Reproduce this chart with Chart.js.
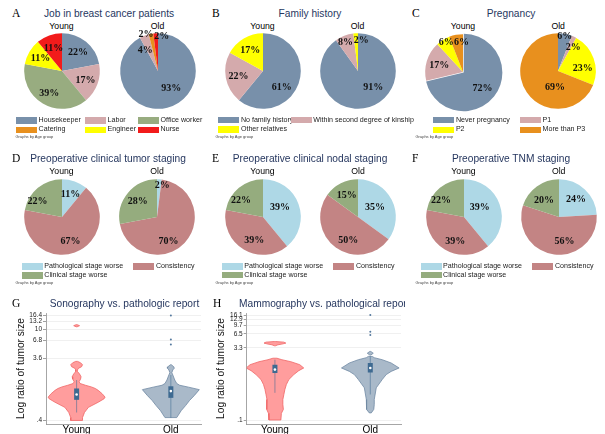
<!DOCTYPE html>
<html><head><meta charset="utf-8">
<script src="https://cdn.jsdelivr.net/npm/chart.js@4.4.1/dist/chart.umd.min.js"></script>
<style>
html,body{margin:0;padding:0;background:#fff;}
body{width:605px;height:434px;position:relative;overflow:hidden;font-family:"Liberation Sans",Arial,sans-serif;}
.abs{position:absolute;white-space:nowrap;line-height:1;}
.letter{font-family:"Liberation Serif","Times New Roman",serif;font-size:11.5px;color:#000;}
.title{font-size:10.2px;color:#26375f;}
.grp{font-size:8.7px;color:#000;}
.leg{font-size:7.1px;color:#222;}
.note{font-size:4px;color:#444;}
canvas{position:absolute;}
</style></head><body>
<script>
// ---------------- DATA ----------------
const ageGroups = ['Young', 'Old'];

const jobCategories = ['Housekeeper', 'Labor', 'Office worker', 'Catering', 'Engineer', 'Nurse'];
const jobYoung = [22, 17, 39, 0, 11, 11];
const jobOld = [93, 4, 0, 2, 0, 2];

const familyCategories = ['No family history', 'Within second degree of kinship', 'Other relatives'];
const familyYoung = [61, 22, 17];
const familyOld = [91, 8, 2];

const pregnancyCategories = ['Never pregnancy', 'P1', 'P2', 'More than P3'];
const pregnancyYoung = [72, 17, 6, 6];
const pregnancyOld = [6, 2, 23, 69];

const stagingCategories = ['Pathological stage worse', 'Consistency', 'Clinical stage worse'];
const tumorYoung = [11, 67, 22];
const tumorOld = [2, 70, 28];
const nodalYoung = [39, 39, 22];
const nodalOld = [35, 50, 15];
const tnmYoung = [39, 39, 22];
const tnmOld = [24, 56, 20];

// violin plots: log ratio of tumor size (levels) and estimated density; null separates pieces
const sonoTicks = [0.4, 3.6, 6.8, 10, 13.2, 16.4];
const sonoYoungLevels = [0.4, 0.443, 0.531, 0.636, 0.762, 0.862, 0.913, 1.03, 1.16, 1.24, 1.31, 1.39, 1.48, 1.57, 1.73, 1.88, 2.07, 2.25, 2.39, 2.54, 2.67, 2.87, 3.08, 3.23, null, 11.0, 11.43, 11.85];
const sonoYoungDensity = [6, 6, 8, 12, 22, 28, 29, 26, 22, 19, 15, 9, 3.5, 2.5, 4, 4.5, 3, 1, 0.8, 2, 5, 6, 4, 1, null, 0.5, 3, 0.5];
const sonoOldLevels = [0.443, 0.565, 0.677, 0.81, 0.97, 1.19, 1.30, 1.39, 1.48, 1.67, 2.0, 2.17, 2.39, 2.54, 2.67, 2.87];
const sonoOldDensity = [6, 10.5, 15, 19, 24, 29, 18, 9, 6, 4, 2, 1, 2, 3.5, 3, 0.5];
const sonoYoungBox = [0.53, 0.83, 1.0, 1.24, 1.67];
const sonoOldBox = [0.44, 0.89, 1.13, 1.34, 2.0];
const sonoYoungOutliers = [];
const sonoOldOutliers = [16.4, 7.0, 5.9];

const mammoTicks = [0.1, 3.3, 6.5, 9.7, 12.9, 16.1];
const mammoYoungLevels = [0.1, 0.138, 0.167, 0.213, 0.27, 0.344, 0.437, 0.556, 0.708, 0.90, 1.09, 1.24, 1.455, 1.68, 1.85, 1.99, null, 3.63, 3.81, 3.94, 4.13, 4.33, 4.46];
const mammoYoungDensity = [6, 6.5, 8.5, 8, 8, 9, 10, 11.5, 14, 19, 24, 29, 25, 16, 7, 2, null, 0.5, 3, 7, 11, 9, 0.5];
const mammoOldLevels = [0.141, 0.167, 0.213, 0.27, 0.475, 0.708, 0.90, 1.05, 1.24, 1.58, 1.85, 2.04, 2.17, null, 2.32, 2.53, 2.76];
const mammoOldDensity = [1, 3.5, 4, 4, 6, 12, 16, 21, 29, 21, 12, 4, 2, null, 0.5, 3, 0.5];
const mammoYoungBox = [0.373, 0.976, 1.145, 1.455, 1.85];
const mammoOldBox = [0.344, 1.0, 1.24, 1.58, 2.17];
const mammoYoungOutliers = [];
const mammoOldOutliers = [16.1, 7.2, 6.15];

// ---------------- STYLE ----------------
const jobColors = ['#7890aa', '#d4aaac', '#98ac80', '#e8901e', '#ffff00', '#f21b1b'];
const familyColors = ['#7890aa', '#d4aaac', '#ffff00'];
const pregnancyColors = ['#7890aa', '#d4aaac', '#ffff00', '#e8901e'];
const stagingColors = ['#aed8e6', '#c38484', '#95ac7e'];
const PIE_R = 37.8;
const densityScale = 1 / 96;

// label placement tweaks: slice index -> [angle deg clockwise from 12 o'clock, radius fraction]
const labelPlacement = {
  'A1': {0: [141, 0.56], 1: [329, 0.65], 3: [342, 1.03], 5: [6, 0.92]},
  'B0': {0: [131, 0.66]},
  'B1': {0: [136.5, 0.59], 1: [336.7, 0.84], 2: [6, 0.84]},
  'C0': {2: [330.5, 0.9], 3: [357, 0.79]},
  'C1': {0: [11, 0.94], 1: [32, 0.76], 2: [83, 0.66], 3: [191, 0.43]},
  'D0': {2: [304, 0.78]},
  'D1': {0: [9.3, 0.87], 1: [154, 0.69]},
  'E0': {0: [60, 0.52], 1: [201, 0.64], 2: [308, 0.74]},
  'E1': {0: [60, 0.52], 1: [203, 0.66]},
  'F0': {0: [56, 0.5], 1: [200, 0.67], 2: [307, 0.76]},
  'F1': {1: [167, 0.64], 2: [319, 0.6]}
};

const piePanels = [
  {key: 'A', title: 'Job in breast cancer patients', ox: 0, oy: 0, tx: 109, cats: jobCategories, colors: jobColors, series: [jobYoung, jobOld], centers: [[61.5, 71], [157.5, 71]], cols: [16, 85, 138], ncol: 3, rows: [120.7, 129.8]},
  {key: 'B', title: 'Family history', ox: 200, oy: 0, tx: 310, cats: familyCategories, colors: familyColors, series: [familyYoung, familyOld], centers: [[262.5, 71.3], [357.5, 71.3]], cols: [218.3, 290.7], ncol: 2, rows: [120.2, 129.6]},
  {key: 'C', title: 'Pregnancy', ox: 400, oy: 0, tx: 511, cats: pregnancyCategories, colors: pregnancyColors, series: [pregnancyYoung, pregnancyOld], centers: [[463, 71.7], [558.2, 71.3]], cols: [433.3, 520], ncol: 2, rows: [120.2, 129.8], offsets: [[3.5, 0, 0, 0], [0, 0, 0, 0]]},
  {key: 'D', title: 'Preoperative clinical tumor staging', ox: 0, oy: 145, tx: 108, cats: stagingCategories, colors: stagingColors, series: [tumorYoung, tumorOld], centers: [[61.5, 216.5], [157, 216.5]], cols: [21.7, 133.3], ncol: 2, rows: [266.6, 275.3]},
  {key: 'E', title: 'Preoperative clinical nodal staging', ox: 200, oy: 145, tx: 310, cats: stagingCategories, colors: stagingColors, series: [nodalYoung, nodalOld], centers: [[262.5, 216.5], [358, 216.5]], cols: [221.7, 333.3], ncol: 2, rows: [266.3, 275.2]},
  {key: 'F', title: 'Preoperative TNM staging', ox: 400, oy: 145, tx: 511, cats: stagingCategories, colors: stagingColors, series: [tnmYoung, tnmOld], centers: [[463.5, 216.5], [558.7, 216.5]], cols: [420.5, 532.3], ncol: 2, rows: [266.3, 275.2]}
];

Chart.defaults.font.family = '"Liberation Sans", Arial, sans-serif';
Chart.defaults.animation = false;

function addText(txt, x, y, cls, mode, parent) {
  const d = document.createElement('div');
  d.className = 'abs ' + cls;
  d.textContent = txt;
  d.style.left = x + 'px';
  d.style.top = y + 'px';
  d.style.transform = mode === 'center' ? 'translate(-50%,-50%)' : 'translate(0,-50%)';
  (parent || document.body).appendChild(d);
  return d;
}

function makePieLabelPlugin(place) {
  return {
    id: 'pieLabels',
    afterDatasetsDraw(chart) {
      const ctx = chart.ctx;
      const meta = chart.getDatasetMeta(0);
      const vals = chart.data.datasets[0].data;
      ctx.save();
      ctx.font = 'bold 10px "Liberation Serif", "Times New Roman", serif';
      ctx.fillStyle = '#111';
      ctx.textAlign = 'center';
      ctx.textBaseline = 'middle';
      meta.data.forEach((arc, i) => {
        const v = vals[i];
        if (!v) return;
        const p = arc.getProps(['x', 'y', 'startAngle', 'endAngle', 'outerRadius'], true);
        let ang = (p.startAngle + p.endAngle) / 2, rf = 0.66;
        if (place && place[i]) { ang = place[i][0] * Math.PI / 180 - Math.PI / 2; rf = place[i][1]; }
        ctx.fillText(v + '%', p.x + Math.cos(ang) * rf * p.outerRadius, p.y + Math.sin(ang) * rf * p.outerRadius + 0.5);
      });
      ctx.restore();
    }
  };
}

piePanels.forEach(pp => {
  addText(pp.key, pp.ox + 12, pp.oy + 13.5, 'letter', 'left');
  addText(pp.title, pp.tx, pp.oy + 14, 'title', 'center');
  pp.series.forEach((vals, k) => {
    const [cx, cy] = pp.centers[k];
    addText(ageGroups[k], cx, pp.oy + 26, 'grp', 'center');
    const c = document.createElement('canvas');
    c.width = 92; c.height = 92;
    c.style.left = (cx - 46) + 'px'; c.style.top = (cy - 46) + 'px';
    document.body.appendChild(c);
    new Chart(c, {
      type: 'pie',
      data: {labels: pp.cats, datasets: [{data: vals, backgroundColor: pp.colors, borderWidth: 0, offset: pp.offsets ? pp.offsets[k] : 0}]},
      options: {responsive: false, animation: false, radius: PIE_R, layout: {padding: 0},
        plugins: {legend: {display: false}, tooltip: {enabled: false}}},
      plugins: [makePieLabelPlugin(labelPlacement[pp.key + k])]
    });
  });
  // legend
  pp.cats.forEach((cat, i) => {
    const col = i % pp.ncol, row = Math.floor(i / pp.ncol);
    const x = pp.cols[col], y = pp.rows[row];
    const sw = document.createElement('div');
    sw.className = 'abs';
    sw.style.cssText = `left:${x}px;top:${y - 3.3}px;width:21px;height:6.6px;background:${pp.colors[i]};`;
    document.body.appendChild(sw);
    addText(cat, x + 22.6, y + 0.3, 'leg', 'left');
  });
  addText('Graphs by Age group', pp.ox + 15.5, pp.rows[1] + 7.6, 'note', 'left');
});

// ---------------- VIOLINS ----------------
function violinPieces(levels, density, center) {
  const pieces = []; let cur = [];
  levels.forEach((v, i) => {
    if (v === null || density[i] === null) { if (cur.length) pieces.push(cur); cur = []; }
    else cur.push([v, density[i]]);
  });
  if (cur.length) pieces.push(cur);
  return pieces.map(p => {
    const right = p.map(([v, d]) => ({x: center + d * densityScale, y: v}));
    const left = p.slice().reverse().map(([v, d]) => ({x: center - d * densityScale, y: v}));
    return right.concat(left, [right[0]]);
  });
}
function fmtTick(v) {
  const s = String(v);
  return v < 1 ? s.replace(/^0/, '') : s;
}

const violinPanels = [
  {key: 'G', title: 'Sonography vs. pathologic report', ox: 0, oy: 290, tx: 124.5, w: 205, axisW: 46, padRight: 2,
   xmin: 0.675, xmax: 2.32, ymin: 0.353, ymax: 17.9, ticks: sonoTicks,
   groups: [
     {levels: sonoYoungLevels, density: sonoYoungDensity, box: sonoYoungBox, outliers: sonoYoungOutliers, fill: '#ff9d9d', stroke: '#f06666'},
     {levels: sonoOldLevels, density: sonoOldDensity, box: sonoOldBox, outliers: sonoOldOutliers, fill: '#a9b9c9', stroke: '#7089a3'}]},
  {key: 'H', title: 'Mammography vs. pathological report', ox: 200, oy: 290, tx: 124.3, w: 205, axisW: 46.7, padRight: 1,
   xmin: 0.704, xmax: 2.322, ymin: 0.0824, ymax: 17.74, ticks: mammoTicks,
   groups: [
     {levels: mammoYoungLevels, density: mammoYoungDensity, box: mammoYoungBox, outliers: mammoYoungOutliers, fill: '#ff9d9d', stroke: '#f06666'},
     {levels: mammoOldLevels, density: mammoOldDensity, box: mammoOldBox, outliers: mammoOldOutliers, fill: '#a9b9c9', stroke: '#7089a3'}]}
];

violinPanels.forEach(vp => {
  const wrap = document.createElement('div');
  wrap.className = 'abs';
  wrap.style.cssText = `left:${vp.ox}px;top:${vp.oy}px;width:${vp.w}px;height:144px;overflow:hidden;`;
  document.body.appendChild(wrap);
  addText(vp.key, 12 + (vp.key === 'H' ? 1 : 0), 13.5, 'letter', 'left', wrap);
  addText(vp.title, vp.tx, 14, 'title', 'center', wrap);
  const c = document.createElement('canvas');
  c.width = vp.w; c.height = 144;
  c.style.left = '0px'; c.style.top = '0px';
  wrap.appendChild(c);
  const datasets = [];
  vp.groups.forEach((g, gi) => {
    const pos = gi + 1;
    violinPieces(g.levels, g.density, pos).forEach(poly => datasets.push({
      data: poly, fill: 'shape', backgroundColor: g.fill, borderColor: g.stroke, borderWidth: 0.8,
      pointRadius: 0, tension: 0, order: 10}));
    const [lo, q1, med, q3, hi] = g.box;
    datasets.push({data: [{x: pos, y: lo}, {x: pos, y: hi}], borderColor: 'rgba(62,106,145,0.55)', borderWidth: 1, pointRadius: 0, fill: false, order: 5});
    datasets.push({data: [{x: pos, y: q1}, {x: pos, y: q3}], borderColor: '#3e6a91', borderWidth: 5, borderCapStyle: 'butt', pointRadius: 0, fill: false, order: 4});
    datasets.push({data: [{x: pos, y: med}], showLine: false, pointRadius: 1.3, pointBackgroundColor: '#ffffff', pointBorderWidth: 0, order: 3});
    if (g.outliers.length) datasets.push({data: g.outliers.map(v => ({x: pos, y: v})), showLine: false, pointRadius: 1, pointBackgroundColor: '#55799e', pointBorderWidth: 0, order: 3});
  });
  new Chart(c, {
    type: 'line',
    data: {datasets},
    options: {
      responsive: false, animation: false,
      layout: {padding: {top: 23, right: vp.padRight, left: 0, bottom: 0}},
      plugins: {legend: {display: false}, tooltip: {enabled: false}},
      scales: {
        x: {type: 'linear', min: vp.xmin, max: vp.xmax,
          afterBuildTicks: s => { s.ticks = [{value: 1}, {value: 2}]; },
          afterFit: s => { s.height = 10; },
          ticks: {autoSkip: false, padding: 0, maxRotation: 0, font: {size: 10}, color: '#000', callback: v => ageGroups[v - 1] || ''},
          grid: {display: false, drawTicks: false},
          border: {display: true, color: '#8f8f8f', width: 0.8}},
        y: {type: 'logarithmic', min: vp.ymin, max: vp.ymax,
          afterBuildTicks: s => { s.ticks = vp.ticks.map(v => ({value: v})); },
          afterFit: s => { s.width = vp.axisW; },
          ticks: {autoSkip: false, padding: 1, font: {size: 6.5}, color: '#222', callback: v => fmtTick(v)},
          grid: {color: '#e9e9e9', lineWidth: 0.7, tickLength: 3, tickColor: '#777', drawTicks: true},
          border: {display: true, color: '#8f8f8f', width: 0.8},
          title: {display: true, text: 'Log ratio of tumor size', font: {size: 10.2}, color: '#111', padding: {top: 15, bottom: 0}}}
      }
    }
  });
});
</script>
</body></html>
